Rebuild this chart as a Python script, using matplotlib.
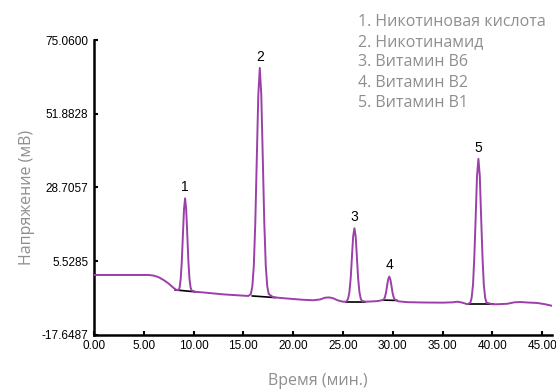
import matplotlib
matplotlib.use("Agg")
import matplotlib.pyplot as plt

# Chromatogram trace: retention time (min) vs detector signal (mV)
time_min = [
    0.0, 5.5, 6.0, 6.5, 7.0, 7.5, 8.0, 8.3,
    # peak 1
    8.49, 8.60, 8.71, 8.82, 8.93, 9.04, 9.15, 9.26, 9.37, 9.48, 9.59, 9.70, 9.81,
    10.2, 11.0, 12.0, 13.0, 14.0, 15.0, 15.5,
    # peak 2
    15.75, 15.90, 16.05, 16.20, 16.35, 16.50, 16.65, 16.80, 16.95, 17.10, 17.25, 17.40, 17.55,
    18.0, 19.0, 20.0, 21.0, 22.0, 22.7, 23.2, 23.6, 24.0, 24.5, 25.0, 25.3,
    # peak 3
    25.40, 25.52, 25.65, 25.78, 25.90, 26.02, 26.15, 26.28, 26.40, 26.52, 26.65, 26.78, 26.90,
    27.3, 28.0, 28.5, 28.8,
    # peak 4
    28.99, 29.10, 29.21, 29.32, 29.43, 29.54, 29.65, 29.76, 29.87, 29.98, 30.09, 30.20, 30.31,
    30.6, 31.5, 33.0, 35.0, 36.0, 36.5, 37.0, 37.5,
    # peak 5
    37.79, 37.92, 38.06, 38.19, 38.33, 38.46, 38.60, 38.74, 38.87, 39.01, 39.14, 39.28, 39.41,
    40.0, 40.5, 41.5, 42.2, 42.8, 43.5, 44.5, 45.3, 46.0,
]
signal_mv = [
    1.2, 1.2, 1.0, 0.5, -0.4, -1.5, -2.9, -3.5,
    -3.6, -2.7, 0.0, 5.5, 13.8, 21.8, 25.3, 21.8, 13.8, 5.5, 0.0, -2.7, -3.7,
    -4.1, -4.3, -4.6, -4.9, -5.1, -5.3, -5.4,
    -4.8, -2.4, 4.1, 17.8, 38.0, 57.8, 66.3, 57.8, 38.0, 17.8, 4.1, -2.4, -4.8,
    -5.8, -6.1, -6.35, -6.6, -6.75, -6.5, -5.95, -5.85, -6.1, -6.8, -7.2, -7.2,
    -6.95, -6.2, -4.1, 0.3, 6.8, 13.2, 15.9, 13.2, 6.8, 0.3, -4.1, -6.2, -6.95,
    -7.2, -7.1, -7.0, -6.8,
    -6.7, -6.5, -5.8, -4.4, -2.2, -0.2, 0.7, -0.2, -2.2, -4.4, -5.8, -6.5, -6.7,
    -7.1, -7.35, -7.45, -7.5, -7.4, -7.2, -7.5, -8.0,
    -7.5, -6.0, -1.8, 6.9, 19.7, 32.3, 37.7, 32.3, 19.7, 6.9, -1.8, -6.0, -7.5,
    -8.0, -8.0, -7.85, -7.4, -7.3, -7.45, -7.6, -8.0, -8.5,
]

# Peak apexes and integration baselines
peak_ids = ["1", "2", "3", "4", "5"]
peak_time = [9.15, 16.65, 26.15, 29.65, 38.60]
peak_height = [25.3, 66.3, 15.9, 0.7, 37.7]
base_start = [(8.15, -3.5), (15.9, -5.4), (25.35, -7.2), (29.0, -6.7), (37.7, -8.0)]
base_end = [(10.2, -4.1), (18.2, -5.9), (27.2, -7.2), (30.4, -6.8), (40.1, -8.0)]

compounds = [
    "1. Никотиновая кислота",
    "2. Никотинамид",
    "3. Витамин B6",
    "4. Витамин B2",
    "5. Витамин B1",
]

y_ticks = [-17.6487, 5.5285, 28.7057, 51.8828, 75.0600]
x_ticks = [0, 5, 10, 15, 20, 25, 30, 35, 40, 45]

trace_color = "#9b3fa9"
grey = "#8e8e8e"
tick_font = "Liberation Sans"
label_font = ["Open Sans", "DejaVu Sans"]

fig = plt.figure(figsize=(5.56, 3.89), dpi=100)
ax = fig.add_axes([0.169, 0.139, 0.824, 0.758])

ax.plot(time_min, signal_mv, color=trace_color, lw=1.4, zorder=3)
for (x0, y0), (x1, y1) in zip(base_start, base_end):
    ax.plot([x0, x1], [y0, y1], color="black", lw=1.2, zorder=2)

for pid, t, h in zip(peak_ids, peak_time, peak_height):
    ax.annotate(pid, (t, h), xytext=(0, 3), textcoords="offset points",
                ha="center", va="bottom", fontsize=10, family=tick_font)

ax.set_xlim(0, 46)
ax.set_ylim(y_ticks[0], y_ticks[-1])
ax.set_xticks(x_ticks)
ax.set_xticklabels([f"{v:.2f}" for v in x_ticks])
ax.set_yticks(y_ticks)
ax.set_yticklabels([f"{v:.4f}" for v in y_ticks])
for lab in ax.get_xticklabels() + ax.get_yticklabels():
    lab.set_family(tick_font)
    lab.set_fontsize(8.5)

for side in ("top", "right"):
    ax.spines[side].set_visible(False)
for side in ("left", "bottom"):
    ax.spines[side].set_linewidth(1.8)
ax.tick_params(direction="in", length=3, width=1.5, pad=4)

fig.text(27 / 556, 1 - 197 / 389, "Напряжение (мВ)", rotation=90,
         ha="center", va="center", color=grey, fontsize=11.5, family=label_font)
fig.text(318 / 556, 1 - 381 / 389, "Время (мин.)",
         ha="center", va="center", color=grey, fontsize=11.5, family=label_font)

for i, name in enumerate(compounds):
    fig.text(358 / 556, 1 - (21.5 + 20.4 * i) / 389, name,
             ha="left", va="center", color=grey, fontsize=11.5, family=label_font)

fig.savefig("out.png", dpi=100)
